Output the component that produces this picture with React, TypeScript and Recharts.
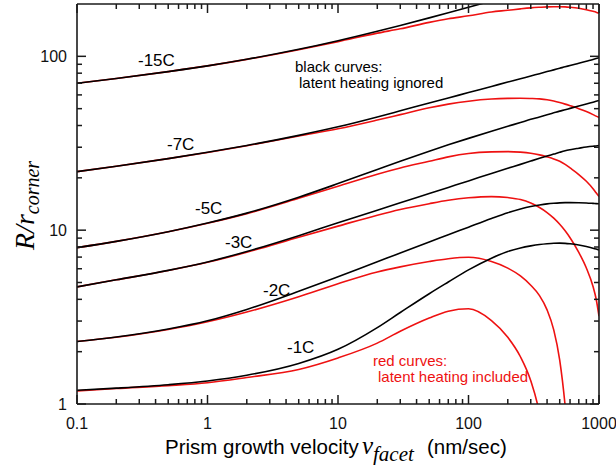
import React from 'react';
import { LineChart, Line, XAxis, YAxis } from 'recharts';

// Prism growth velocity (nm/sec)
const velocity = [0.1, 0.2, 0.5, 1, 2, 5, 10, 20, 30, 50, 70, 100, 150, 200, 250, 300, 350, 400, 450, 500, 550, 600, 700, 800, 900, 950, 1000];

// black curves: latent heating ignored
const black15 = [70, 74.5, 81.7, 88.1, 96.1, 109.7, 123, 139.4, 150.6, 166.4, 178, 191.5, 208.5, 221.4, 232, 241, 249, 256, 262.7, 268.5, 274, 279, 288.5, 296.7, 304, 307.5, 311];
const black7 = [21.7, 23.3, 25.8, 28.05, 30.7, 35.1, 39.3, 44.8, 48.6, 53.9, 57.6, 61.9, 67.1, 71.1, 74.3, 77.1, 79.5, 81.7, 83.6, 85.4, 87.0, 88.6, 91.3, 93.8, 96.0, 97.1, 98.1];
const black5 = [7.93, 8.62, 9.8, 10.99, 12.53, 15.47, 18.53, 22.35, 24.93, 28.47, 30.96, 33.73, 37.1, 39.6, 41.6, 43.4, 44.8, 46.1, 47.3, 48.4, 49.3, 50.2, 51.8, 53.2, 54.5, 55.1, 55.7];
const black3 = [4.72, 5.18, 5.87, 6.56, 7.54, 9.3, 11.02, 13.02, 14.38, 16.25, 17.62, 19.2, 21.2, 22.7, 23.9, 24.97, 25.9, 26.7, 27.4, 28.05, 28.6, 29.0, 29.6, 30.1, 30.4, 30.5, 30.7];
const black2 = [2.29, 2.43, 2.7, 3.01, 3.5, 4.45, 5.4, 6.58, 7.38, 8.55, 9.4, 10.41, 11.68, 12.6, 13.23, 13.67, 13.96, 14.16, 14.28, 14.36, 14.4, 14.41, 14.39, 14.34, 14.26, 14.22, 14.18];
const black1 = [1.2, 1.234, 1.291, 1.356, 1.463, 1.71, 2.063, 2.75, 3.36, 4.31, 5.03, 5.91, 6.9, 7.54, 7.9, 8.12, 8.27, 8.36, 8.41, 8.42, 8.4, 8.35, 8.22, 8.06, 7.88, 7.79, 7.7];

// red curves: latent heating included
const red15 = [70, 74.5, 81.7, 88.1, 96.0, 109.2, 121.5, 136, 144, 156.8, 164.5, 171, 180, 184, 187.5, 190, 191.5, 192.6, 193, 193, 192.5, 191.5, 189, 185.5, 181.5, 179.5, 177];
const red7 = [21.7, 23.3, 25.8, 28.0, 30.6, 34.8, 38.3, 43.0, 46.2, 50.6, 53.1, 55.2, 56.8, 57.3, 57.4, 57.2, 56.9, 56.3, 55.3, 54.2, 53.1, 52.0, 50.0, 48.1, 46.2, 45.3, 44.5];
const red5 = [7.93, 8.62, 9.79, 10.96, 12.45, 15.25, 17.9, 21.0, 22.8, 24.9, 26.4, 27.6, 28.2, 28.3, 28.1, 27.7, 27.1, 26.4, 25.7, 24.9, 23.9, 22.8, 20.9, 19.1, 17.3, 16.4, 15.6];
const red3 = [4.72, 5.18, 5.86, 6.53, 7.46, 9.1, 10.55, 12.2, 13.15, 14.2, 14.85, 15.35, 15.6, 15.4, 15.0, 14.32, 13.5, 12.63, 11.72, 10.81, 9.92, 9.05, 7.45, 6.06, 4.74, 4.03, 3.2];
const red2 = [2.29, 2.42, 2.68, 2.97, 3.38, 4.14, 4.92, 5.75, 6.15, 6.6, 6.85, 6.98, 6.6, 6.05, 5.45, 4.82, 4.2, 3.48, 2.67, 1.79, 0.98, 0.45, null, null, null, null, null];
const red1 = [1.19, 1.228, 1.275, 1.325, 1.42, 1.58, 1.84, 2.24, 2.62, 3.12, 3.42, 3.53, 3.02, 2.42, 1.87, 1.36, 0.88, 0.45, null, null, null, null, null, null, null, null, null];

// axis ticks
const xMajor = [0.1, 1, 10, 100, 1000];
const xTicks = [0.1, 0.2, 0.3, 0.4, 0.5, 0.6, 0.7, 0.8, 0.9, 1, 2, 3, 4, 5, 6, 7, 8, 9, 10, 20, 30, 40, 50, 60, 70, 80, 90, 100, 200, 300, 400, 500, 600, 700, 800, 900, 1000];
const yMajor = [1, 10, 100];
const yTicks = [1, 2, 3, 4, 5, 6, 7, 8, 9, 10, 20, 30, 40, 50, 60, 70, 80, 90, 100];

const data = velocity.map((v, i) => ({
  v,
  b15: black15[i], b7: black7[i], b5: black5[i], b3: black3[i], b2: black2[i], b1: black1[i],
  r15: red15[i], r7: red7[i], r5: red5[i], r3: red3[i], r2: red2[i], r1: red1[i],
}));

const AXIS = '#1a1a1a';
const TICK = '#1a1a1a';
const SANS = 'Liberation Sans, Arial, sans-serif';
const SERIF = 'Liberation Serif, Times New Roman, serif';
const RED = '#ee1111';
const MAJ = 9;
const MIN = 5;
const TW = 1.5;

const isMaj = (val: number, list: number[]) => list.some((m) => Math.abs(m - val) < 1e-9);

// all tick marks drawn here; tickSize is 0 so (x, y) is on the axis line
const bottomTick = (p: any) => {
  const major = isMaj(p.payload.value, xMajor);
  return (
    <g>
      <path d={`M${p.x},${p.y}V${p.y - (major ? MAJ : MIN)}`} stroke={TICK} strokeWidth={TW} fill="none" />
      {major && (
        <text x={p.x} y={p.y + 25} textAnchor="middle" fontSize={16} fontFamily={SANS} fill="#111">
          {String(p.payload.value)}
        </text>
      )}
    </g>
  );
};
const topTick = (p: any) => {
  const major = isMaj(p.payload.value, xMajor);
  return <path d={`M${p.x},${p.y}V${p.y + (major ? MAJ : MIN)}`} stroke={TICK} strokeWidth={TW} fill="none" />;
};
const leftTick = (p: any) => {
  const major = isMaj(p.payload.value, yMajor);
  return (
    <g>
      <path d={`M${p.x},${p.y}H${p.x + (major ? MAJ : MIN)}`} stroke={TICK} strokeWidth={TW} fill="none" />
      {major && (
        <text x={p.x - 10} y={p.y + 6} textAnchor="end" fontSize={16} fontFamily={SANS} fill="#111">
          {String(p.payload.value)}
        </text>
      )}
    </g>
  );
};
const rightTick = (p: any) => {
  const major = isMaj(p.payload.value, yMajor);
  return <path d={`M${p.x},${p.y}H${p.x - (major ? MAJ : MIN)}`} stroke={TICK} strokeWidth={TW} fill="none" />;
};

const curveLabels = [
  { t: '-15C', x: 138, y: 66 },
  { t: '-7C', x: 167, y: 150 },
  { t: '-5C', x: 195, y: 214 },
  { t: '-3C', x: 225, y: 248 },
  { t: '-2C', x: 263, y: 296 },
  { t: '-1C', x: 287, y: 353 },
];

export default function App() {
  const lineProps = { type: 'monotone' as const, dot: false, isAnimationActive: false, strokeWidth: 1.6, xAxisId: 'xb', yAxisId: 'yl', connectNulls: false };
  const al = { stroke: AXIS, strokeWidth: 1.6 };
  return (
    <div style={{ position: 'absolute', left: 0, top: 0, width: 616, height: 465 }}>
      <svg width={616} height={465} style={{ position: 'absolute', left: 0, top: 0, pointerEvents: 'none' }}>
        {curveLabels.map((c) => (
          <text key={c.t} x={c.x} y={c.y} fontSize={17} fontFamily={SANS} fill="#000">{c.t}</text>
        ))}
        <text x={295} y={72} fontSize={15} fontFamily={SANS} fill="#000">black curves:</text>
        <text x={299} y={88} fontSize={15} fontFamily={SANS} fill="#000">latent heating ignored</text>
        <text x={373} y={366} fontSize={15} fontFamily={SANS} fill={RED}>red curves:</text>
        <text x={378} y={382} fontSize={15} fontFamily={SANS} fill={RED}>latent heating included</text>
        <text transform="translate(34, 250) rotate(-90)" fontFamily={SERIF} fontStyle="italic" fontSize={28} fill="#000">
          R/r<tspan fontSize={20} dy={5}>corner</tspan>
        </text>
        <text x={165} y={454} fontFamily={SANS} fontSize={20.5} fill="#000">Prism growth velocity</text>
        <text x={362} y={454} fontFamily={SERIF} fontStyle="italic" fontSize={25} fill="#000">v</text>
        <text x={373} y={461} fontFamily={SERIF} fontStyle="italic" fontSize={21} fill="#000">facet</text>
        <text x={427} y={454} fontFamily={SANS} fontSize={20.5} fill="#000">(nm/sec)</text>
      </svg>
      <div style={{ position: 'absolute', left: 0, top: 0 }}>
        <LineChart width={616} height={465} data={data} margin={{ top: 0, right: 0, bottom: 0, left: 0 }}>
          <XAxis xAxisId="xb" dataKey="v" type="number" scale="log" domain={[0.1, 1000]} allowDataOverflow
            ticks={xTicks} interval={0} tickSize={0} tickMargin={0} tick={bottomTick} tickLine={false} axisLine={al}
            height={61} orientation="bottom" />
          <XAxis xAxisId="xt" dataKey="v" type="number" scale="log" domain={[0.1, 1000]} allowDataOverflow
            ticks={xTicks} interval={0} tickSize={0} tickMargin={0} tick={topTick} tickLine={false} axisLine={al}
            height={4} orientation="top" />
          <YAxis yAxisId="yl" type="number" scale="log" domain={[1, 200]} allowDataOverflow
            ticks={yTicks} interval={0} tickSize={0} tickMargin={0} tick={leftTick} tickLine={false} axisLine={al}
            width={77} orientation="left" />
          <YAxis yAxisId="yr" type="number" scale="log" domain={[1, 200]} allowDataOverflow
            ticks={yTicks} interval={0} tickSize={0} tickMargin={0} tick={rightTick} tickLine={false} axisLine={al}
            width={17} orientation="right" />
          <Line {...lineProps} dataKey="r15" stroke={RED} />
          <Line {...lineProps} dataKey="r7" stroke={RED} />
          <Line {...lineProps} dataKey="r5" stroke={RED} />
          <Line {...lineProps} dataKey="r3" stroke={RED} />
          <Line {...lineProps} dataKey="r2" stroke={RED} />
          <Line {...lineProps} dataKey="r1" stroke={RED} />
          <Line {...lineProps} dataKey="b15" stroke="#000" />
          <Line {...lineProps} dataKey="b7" stroke="#000" />
          <Line {...lineProps} dataKey="b5" stroke="#000" />
          <Line {...lineProps} dataKey="b3" stroke="#000" />
          <Line {...lineProps} dataKey="b2" stroke="#000" />
          <Line {...lineProps} dataKey="b1" stroke="#000" />
        </LineChart>
      </div>
    </div>
  );
}
